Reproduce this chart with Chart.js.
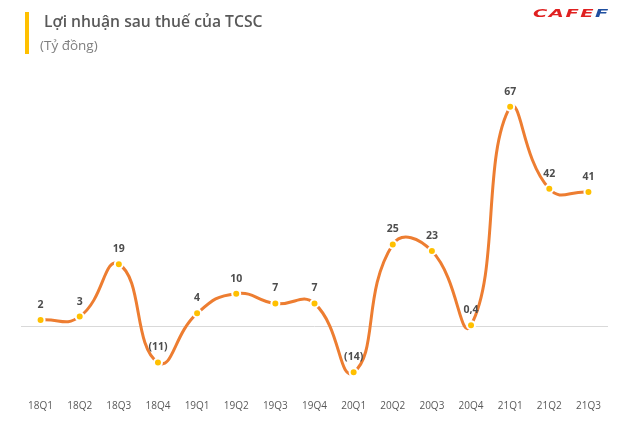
<!DOCTYPE html>
<html>
<head>
<meta charset="utf-8">
<script src="https://cdn.jsdelivr.net/npm/chart.js@4"></script>
<style>
  body { margin: 0; background: #fff; }
  #wrap { position: relative; width: 630px; height: 433px; }
  #bar { position: absolute; left: 25px; top: 12px; width: 4px; height: 42px; background: #ffc000; }
  #title { position: absolute; left: 44px; top: 10px; font: 600 15.7px "Open Sans", sans-serif; color: #595959; }
  #unit { position: absolute; left: 40px; top: 36px; font: 13.5px "Open Sans", sans-serif; color: #7f7f7f; }
  #logo { position: absolute; left: 533px; top: 6px; font: italic 900 13px "DejaVu Sans", sans-serif; letter-spacing: 1px; color: #e02020; transform: scale(1.5, 0.8); transform-origin: left center; }
  #logo span { color: #1f4fa0; }
  canvas { position: absolute; left: 0; top: 0; }
</style>
</head>
<body>
<div id="wrap">
  <canvas id="c" width="630" height="433"></canvas>
  <div id="bar"></div>
  <div id="title">Lợi nhuận sau thuế của TCSC</div>
  <div id="unit">(Tỷ đồng)</div>
  <div id="logo">CAFE<span>F</span></div>
</div>
<script>
const quarters = ['18Q1', '18Q2', '18Q3', '18Q4', '19Q1', '19Q2', '19Q3', '19Q4',
  '20Q1', '20Q2', '20Q3', '20Q4', '21Q1', '21Q2', '21Q3'];
const profit = [2, 3, 19, -11, 4, 10, 7, 7, -14, 25, 23, 0.4, 67, 42, 41];
const profitLabels = ['2', '3', '19', '(11)', '4', '10', '7', '7', '(14)', '25', '23', '0,4', '67', '42', '41'];

const pointLabels = {
  id: 'pointLabels',
  afterDatasetsDraw(chart) {
    const { ctx } = chart;
    const meta = chart.getDatasetMeta(0);
    ctx.save();
    ctx.font = 'bold 10.5px "Open Sans", sans-serif';
    ctx.fillStyle = '#4d4d4d';
    ctx.textAlign = 'center';
    ctx.textBaseline = 'middle';
    meta.data.forEach((pt, i) => {
      ctx.fillText(profitLabels[i], pt.x, pt.y - 15);
    });
    ctx.restore();
  }
};

new Chart(document.getElementById('c'), {
  type: 'line',
  data: {
    labels: quarters,
    datasets: [{
      data: profit,
      borderColor: '#ed7d31',
      borderWidth: 3,
      tension: 0.5,
      pointRadius: 4,
      pointBackgroundColor: '#ffc000',
      pointBorderColor: '#ffffff',
      pointBorderWidth: 2,
    }],
  },
  options: {
    responsive: false,
    animation: false,
    layout: { padding: { top: 97, bottom: 21, left: 21, right: 22 } },
    plugins: { legend: { display: false }, tooltip: { enabled: false } },
    scales: {
      x: {
        offset: true,
        grid: { display: false },
        border: { display: false },
        ticks: { color: '#595959', font: { size: 10, family: '"Open Sans", sans-serif' }, padding: 0 },
      },
      y: {
        min: -20,
        max: 70,
        ticks: { display: false },
        border: { display: false },
        grid: {
          drawTicks: false,
          color: (c) => (c.tick && c.tick.value === 0 ? '#d9d9d9' : 'rgba(0,0,0,0)'),
        },
      },
    },
  },
  plugins: [pointLabels],
});
</script>
</body>
</html>
